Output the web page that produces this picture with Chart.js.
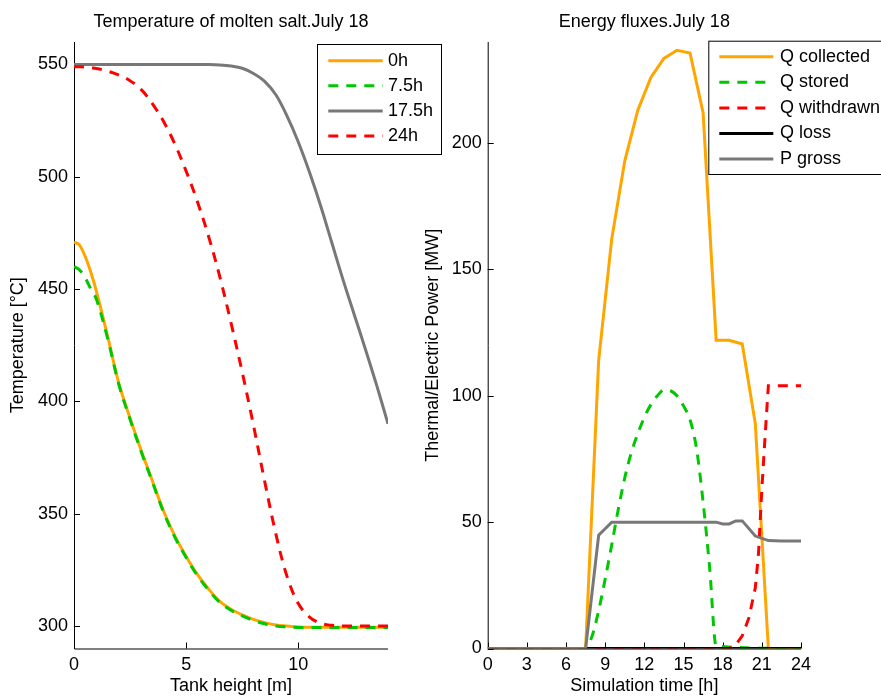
<!DOCTYPE html>
<html>
<head>
<meta charset="utf-8">
<title>Molten salt storage - July 18</title>
<script src="https://cdn.jsdelivr.net/npm/chart.js@4.4.0/dist/chart.umd.min.js"></script>
<style>
    body { margin: 0; background: #fff; }
    #wrap { position: relative; width: 881px; height: 698px; overflow: hidden; }
    .panel { position: absolute; top: 0; height: 698px; }
    #leftPanel { left: 0; width: 450px; }
    #rightPanel { left: 420px; width: 461px; }
</style>
</head>
<body>
<div id="wrap">
    <div class="panel" id="leftPanel"><canvas id="tempChart" width="450" height="698"></canvas></div>
    <div class="panel" id="rightPanel"><canvas id="fluxChart" width="461" height="698"></canvas></div>
</div>
<script>
// Temperature profile along the tank height [m] -> [°C]
const tankHeight = [0, 0.25, 0.5, 0.75, 1, 1.5, 2, 2.5, 3, 3.5, 4, 4.5, 5, 5.5, 6, 6.5, 7, 7.5, 8, 8.5, 9, 9.5, 10, 10.5, 11, 11.5, 12, 12.5, 13, 13.5, 14];
const temp0h   = [471, 469.5, 464.5, 457.5, 449, 429, 408, 392.5, 378, 364.5, 351, 340, 331, 323, 316.5, 311, 307.5, 305, 303, 301.5, 300.5, 300, 299.6, 299.5, 299.5, 299.5, 299.5, 299.5, 299.5, 299.5, 299.5];
const temp7_5h = [460, 458.5, 455, 450, 445.5, 428, 407.5, 392, 377.5, 364, 350.5, 339.5, 330.5, 322.5, 316, 310.5, 307, 304.5, 302.5, 301, 300, 299.6, 299.4, 299.3, 299.3, 299.3, 299.3, 299.3, 299.3, 299.3, 299.3];
const temp17_5h = [550, 550, 550, 550, 550, 550, 550, 550, 550, 550, 550, 550, 550, 550, 550, 549.8, 549.3, 548.3, 546, 542.5, 536.5, 527, 515.5, 502, 487, 470.5, 454, 438.5, 423, 407, 390];
const temp24h  = [549, 549, 548.8, 548.5, 548.2, 547, 545.3, 542.8, 538.8, 532.5, 524.5, 514.5, 502.5, 489, 473.5, 455.5, 435, 413, 389.5, 364.5, 341, 322, 310, 304, 301.2, 300.3, 300, 300, 300, 300, 300];
const heightTicks = [0, 5, 10];
const tempTicks = [300, 350, 400, 450, 500, 550];

// Energy fluxes over the simulated day [h] -> [MW]
const timeCollected = [0, 0.5, 1.5, 2.5, 3.5, 4.5, 5.5, 6.5, 7.5, 8.5, 9.5, 10.5, 11.5, 12.5, 13.5, 14.5, 15.5, 16.5, 17.5, 18.5, 19.5, 20.5, 21.5, 22.5, 23.5, 24];
const qCollected    = [0, 0, 0, 0, 0, 0, 0, 0, 0, 114, 162, 193, 213, 226, 233.5, 236.7, 235.6, 212, 122, 122, 120.5, 89, 0, 0, 0, 0];
const timeStored = [0, 7.5, 8, 8.5, 9, 9.5, 10, 10.5, 11, 11.5, 12, 12.5, 13, 13.5, 14, 14.5, 15, 15.5, 16, 16.5, 17, 17.5, 24];
const qStored    = [0, 0, 5, 15, 27.5, 41, 55, 67.5, 77.5, 85, 91.5, 96.5, 100, 102.3, 102, 100, 96, 90.5, 79, 58, 32, 1, 0];
const timeWithdrawn = [0, 18.5, 19, 19.5, 20, 20.5, 20.75, 21, 21.25, 21.5, 22, 24];
const qWithdrawn    = [0, 0, 1.5, 5, 12, 24, 38, 63, 84, 104, 104, 104];
const timeLoss = [0, 24];
const qLoss    = [0, 0];
const timeGross = [0, 7.5, 8.5, 9.5, 10.5, 11.5, 12.5, 13.5, 14.5, 15.5, 16.5, 17.5, 18, 18.5, 19, 19.5, 20.5, 21.5, 22.5, 23.5, 24];
const pGross    = [0, 0, 44.8, 50, 50, 50, 50, 50, 50, 50, 50, 50, 49.3, 49.3, 50.5, 50.5, 44.5, 42.7, 42.5, 42.5, 42.5];
const timeTicks = [0, 3, 6, 9, 12, 15, 18, 21, 24];
const powerTicks = [0, 50, 100, 150, 200];

const FONT = "'Liberation Sans', Arial, Helvetica, sans-serif";
const FONT_SIZE = 18;

const toXY = (xs, ys) => xs.map((x, i) => ({ x: x, y: ys[i] }));

// curve: 'spline' (smooth profile), 'monotone' or 'linear'
function lineSet(label, xs, ys, color, dash, curve, idx) {
    return {
        label: label,
        data: toXY(xs, ys),
        borderColor: color,
        backgroundColor: color,
        borderWidth: 3,
        borderDash: dash,
        pointRadius: 0,
        fill: false,
        tension: curve === 'spline' ? 0.35 : 0,
        cubicInterpolationMode: curve === 'monotone' ? 'monotone' : 'default',
        order: -idx // later series on top
    };
}

// axes with left/bottom lines only, inward ticks, title and boxed legend
const matlabAxes = {
    id: 'matlabAxes',
    beforeDatasetsDraw(chart, args, opts) {
        const { ctx, chartArea: a, scales } = chart;
        ctx.save();
        ctx.strokeStyle = '#000';
        ctx.lineWidth = 1;
        ctx.beginPath();
        ctx.moveTo(a.left + 0.5, a.top);
        ctx.lineTo(a.left + 0.5, a.bottom + 0.5);
        ctx.lineTo(a.right, a.bottom + 0.5);
        scales.x.ticks.forEach(t => {
            const px = Math.round(scales.x.getPixelForValue(t.value)) + 0.5;
            ctx.moveTo(px, a.bottom);
            ctx.lineTo(px, a.bottom - 6);
        });
        scales.y.ticks.forEach(t => {
            const py = Math.round(scales.y.getPixelForValue(t.value)) + 0.5;
            ctx.moveTo(a.left, py);
            ctx.lineTo(a.left + 6, py);
        });
        ctx.stroke();

        ctx.fillStyle = '#000';
        ctx.font = FONT_SIZE + 'px ' + FONT;
        ctx.textAlign = 'center';
        ctx.textBaseline = 'middle';
        ctx.fillText(opts.title, (a.left + a.right) / 2, opts.titleY);
        ctx.restore();
    },
    afterDraw(chart, args, opts) {
        const L = opts.legend;
        const ctx = chart.ctx;
        ctx.save();
        ctx.fillStyle = '#fff';
        ctx.fillRect(L.x, L.y, L.w, L.h);
        ctx.strokeStyle = '#000';
        ctx.lineWidth = 1;
        ctx.strokeRect(L.x + 0.5, L.y + 0.5, L.w, L.h);
        chart.data.datasets.forEach((ds, i) => {
            const y = L.row0 + i * L.rowGap;
            ctx.strokeStyle = ds.borderColor;
            ctx.lineWidth = ds.borderWidth;
            ctx.setLineDash(ds.borderDash);
            ctx.beginPath();
            ctx.moveTo(L.lineX0, y);
            ctx.lineTo(L.lineX1, y);
            ctx.stroke();
            ctx.setLineDash([]);
            ctx.fillStyle = '#000';
            ctx.font = FONT_SIZE + 'px ' + FONT;
            ctx.textAlign = 'left';
            ctx.textBaseline = 'middle';
            ctx.fillText(ds.label, L.textX, y);
        });
        ctx.restore();
    }
};

function axis(min, max, tickList, title, titlePad, fitSize, horizontal) {
    return {
        type: 'linear',
        min: min,
        max: max,
        grid: { display: false, drawTicks: false },
        border: { display: false },
        afterBuildTicks: s => { s.ticks = tickList.map(v => ({ value: v })); },
        afterFit: s => { if (horizontal) s.height = fitSize; else s.width = fitSize; },
        ticks: {
            color: '#000',
            font: { family: FONT, size: FONT_SIZE },
            padding: horizontal ? 6 : 6,
            maxRotation: 0,
            autoSkip: false
        },
        title: {
            display: true,
            text: title,
            color: '#000',
            font: { family: FONT, size: FONT_SIZE },
            padding: titlePad
        }
    };
}

function baseOptions(padRight) {
    return {
        responsive: false,
        animation: false,
        layout: { padding: { left: 0, right: padRight, top: 42, bottom: 0 } },
        plugins: { legend: { display: false }, tooltip: { enabled: false } }
    };
}

// Left: temperature of the molten salt
const tempOpts = baseOptions(62);
tempOpts.scales = {
    x: axis(0, 14, heightTicks, 'Tank height [m]', { top: 0, bottom: 1 }, 49.5, true),
    y: axis(290, 560, tempTicks, 'Temperature [°C]', { top: 7, bottom: 0 }, 74, false)
};
tempOpts.plugins.matlabAxes = {
    title: 'Temperature of molten salt.July 18',
    titleY: 22,
    legend: { x: 317, y: 44, w: 124, h: 110, row0: 60.7, rowGap: 25.1, lineX0: 328.3, lineX1: 382.7, textX: 388 }
};

new Chart(document.getElementById('tempChart').getContext('2d'), {
    type: 'line',
    data: {
        datasets: [
            lineSet('0h', tankHeight, temp0h, '#ffa500', [], 'spline', 0),
            lineSet('7.5h', tankHeight, temp7_5h, '#00c800', [10, 8], 'spline', 1),
            lineSet('17.5h', tankHeight, temp17_5h, '#787878', [], 'spline', 2),
            lineSet('24h', tankHeight, temp24h, '#ff0000', [10, 8], 'spline', 3)
        ]
    },
    options: tempOpts,
    plugins: [matlabAxes]
});

// Right: energy fluxes
const fluxOpts = baseOptions(80);
fluxOpts.scales = {
    x: axis(0, 24, timeTicks, 'Simulation time [h]', { top: 0, bottom: 1 }, 49.5, true),
    y: axis(0, 240, powerTicks, 'Thermal/Electric Power [MW]', { top: 2, bottom: 0 }, 67.7, false)
};
fluxOpts.plugins.matlabAxes = {
    title: 'Energy fluxes.July 18',
    titleY: 22,
    legend: { x: 288.3, y: 40.7, w: 200, h: 133.3, row0: 56.7, rowGap: 25.6, lineX0: 299.3, lineX1: 353.3, textX: 360 }
};

new Chart(document.getElementById('fluxChart').getContext('2d'), {
    type: 'line',
    data: {
        datasets: [
            lineSet('Q collected', timeCollected, qCollected, '#ffa500', [], 'linear', 0),
            lineSet('Q stored', timeStored, qStored, '#00c800', [10, 8], 'monotone', 1),
            lineSet('Q withdrawn', timeWithdrawn, qWithdrawn, '#ff0000', [10, 8], 'linear', 2),
            lineSet('Q loss', timeLoss, qLoss, '#000000', [], 'linear', 3),
            lineSet('P gross', timeGross, pGross, '#787878', [], 'linear', 4)
        ]
    },
    options: fluxOpts,
    plugins: [matlabAxes]
});
</script>
</body>
</html>
